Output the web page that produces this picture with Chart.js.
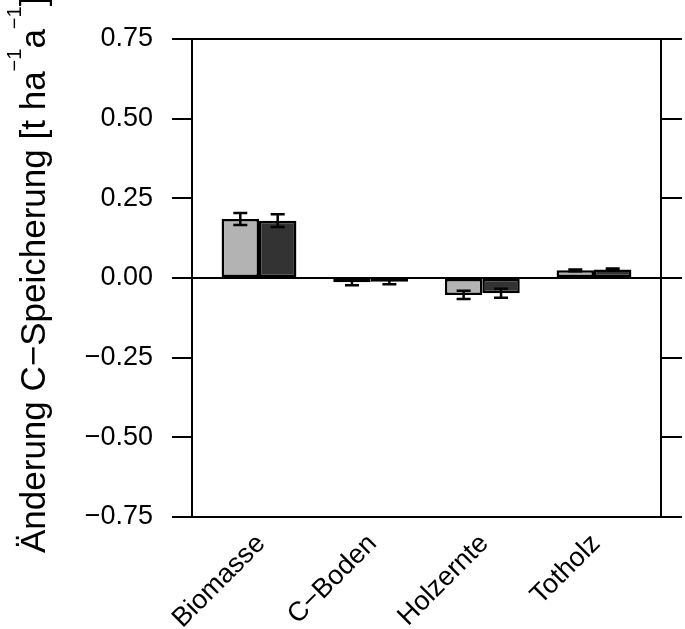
<!DOCTYPE html>
<html>
<head>
<meta charset="utf-8">
<script src="https://cdn.jsdelivr.net/npm/chart.js@4"></script>
<style>
  html, body { margin: 0; padding: 0; background: #fff; }
</style>
</head>
<body>
<canvas id="chart" width="685" height="629"></canvas>
<script>
const categories = ['Biomasse', 'C−Boden', 'Holzernte', 'Totholz'];
const valuesA = [0.185, -0.013, -0.053, 0.024];
const errorsA = [0.019, 0.010, 0.013, 0.003];
const valuesB = [0.180, -0.012, -0.048, 0.027];
const errorsB = [0.020, 0.008, 0.014, 0.003];
const yTicks = [-0.75, -0.5, -0.25, 0, 0.25, 0.5, 0.75];

const FONT = '"Liberation Sans", Arial, sans-serif';

function fmt(v) {
    const s = Math.abs(v).toFixed(2);
    return v < 0 ? '−' + s : s;
}

// Rahmen, Nulllinie, Fehlerbalken und Achsentitel
const extras = {
    id: 'extras',
    afterDatasetsDraw(chart) {
        const { ctx, chartArea: a, scales } = chart;
        const y = scales.y;
        ctx.save();
        ctx.strokeStyle = '#000';

        // Fehlerbalken
        ctx.lineWidth = 2.5;
        [errorsA, errorsB].forEach((errs, d) => {
            const meta = chart.getDatasetMeta(d);
            const vals = d === 0 ? valuesA : valuesB;
            meta.data.forEach((bar, i) => {
                const yTop = y.getPixelForValue(vals[i] + errs[i]);
                const yBot = y.getPixelForValue(vals[i] - errs[i]);
                ctx.beginPath();
                ctx.moveTo(bar.x, yTop); ctx.lineTo(bar.x, yBot);
                ctx.moveTo(bar.x - 7, yTop); ctx.lineTo(bar.x + 7, yTop);
                ctx.moveTo(bar.x - 7, yBot); ctx.lineTo(bar.x + 7, yBot);
                ctx.stroke();
            });
        });

        // Nulllinie
        ctx.lineWidth = 2;
        const y0 = y.getPixelForValue(0);
        ctx.beginPath();
        ctx.moveTo(a.left, y0); ctx.lineTo(a.right, y0);
        ctx.stroke();

        // Rahmen
        ctx.strokeRect(a.left, a.top, a.right - a.left, a.bottom - a.top);

        // y-Achsentitel mit Hochstellungen
        ctx.translate(45, 553);
        ctx.rotate(-Math.PI / 2);
        ctx.fillStyle = '#000';
        ctx.textAlign = 'left';
        ctx.textBaseline = 'alphabetic';
        const size = 35;
        const supSize = 20;
        const parts = [
            ['Änderung C−Speicherung [t ha', false],
            ['−1', true],
            ['a', false],
            ['−1', true],
            [']', false]
        ];
        let x = 0;
        parts.forEach(([txt, sup]) => {
            ctx.font = (sup ? supSize : size) + 'px ' + FONT;
            ctx.fillText(txt, x, sup ? -24 : 0);
            x += ctx.measureText(txt).width;
        });
        ctx.restore();
    }
};

new Chart(document.getElementById('chart'), {
    type: 'bar',
    data: {
        datasets: [
            {
                data: categories.map((c, i) => ({ x: i + 1, y: valuesA[i] })),
                backgroundColor: '#b3b3b3',
                borderColor: '#000',
                borderWidth: 2.5,
                borderSkipped: false
            },
            {
                data: categories.map((c, i) => ({ x: i + 1, y: valuesB[i] })),
                backgroundColor: '#333333',
                borderColor: '#000',
                borderWidth: 2.5,
                borderSkipped: false
            }
        ]
    },
    options: {
        responsive: false,
        animation: false,
        events: [],
        layout: { padding: { top: 39 } },
        datasets: {
            bar: { categoryPercentage: 0.67, barPercentage: 1.0 }
        },
        plugins: {
            legend: { display: false },
            tooltip: { enabled: false }
        },
        scales: {
            x: {
                type: 'linear',
                offset: false,
                min: 0.4,
                max: 4.6,
                afterBuildTicks: s => { s.ticks = categories.map((c, i) => ({ value: i + 1 })); },
                afterFit: s => { s.height = 112; },
                grid: { display: false, offset: false },
                border: { display: false },
                ticks: {
                    callback: v => categories[v - 1],
                    minRotation: 45,
                    maxRotation: 45,
                    autoSkip: false,
                    padding: 3,
                    labelOffset: 2,
                    color: '#000',
                    font: { family: FONT, size: 27 }
                }
            },
            y: {
                position: 'left',
                min: -0.75,
                max: 0.75,
                afterBuildTicks: s => { s.ticks = yTicks.map(v => ({ value: v })); },
                afterFit: s => { s.width = 192; },
                border: { display: false },
                grid: {
                    drawOnChartArea: false,
                    drawTicks: true,
                    tickLength: 20,
                    tickColor: '#000',
                    lineWidth: 2
                },
                ticks: {
                    callback: v => fmt(v),
                    padding: 19,
                    color: '#000',
                    font: { family: FONT, size: 27 }
                }
            },
            y2: {
                position: 'right',
                min: -0.75,
                max: 0.75,
                afterBuildTicks: s => { s.ticks = yTicks.map(v => ({ value: v })); },
                afterFit: s => { s.width = 24; },
                border: { display: false },
                grid: {
                    drawOnChartArea: false,
                    drawTicks: true,
                    tickLength: 21,
                    tickColor: '#000',
                    lineWidth: 2
                },
                ticks: { display: false }
            }
        }
    },
    plugins: [extras]
});
</script>
</body>
</html>
